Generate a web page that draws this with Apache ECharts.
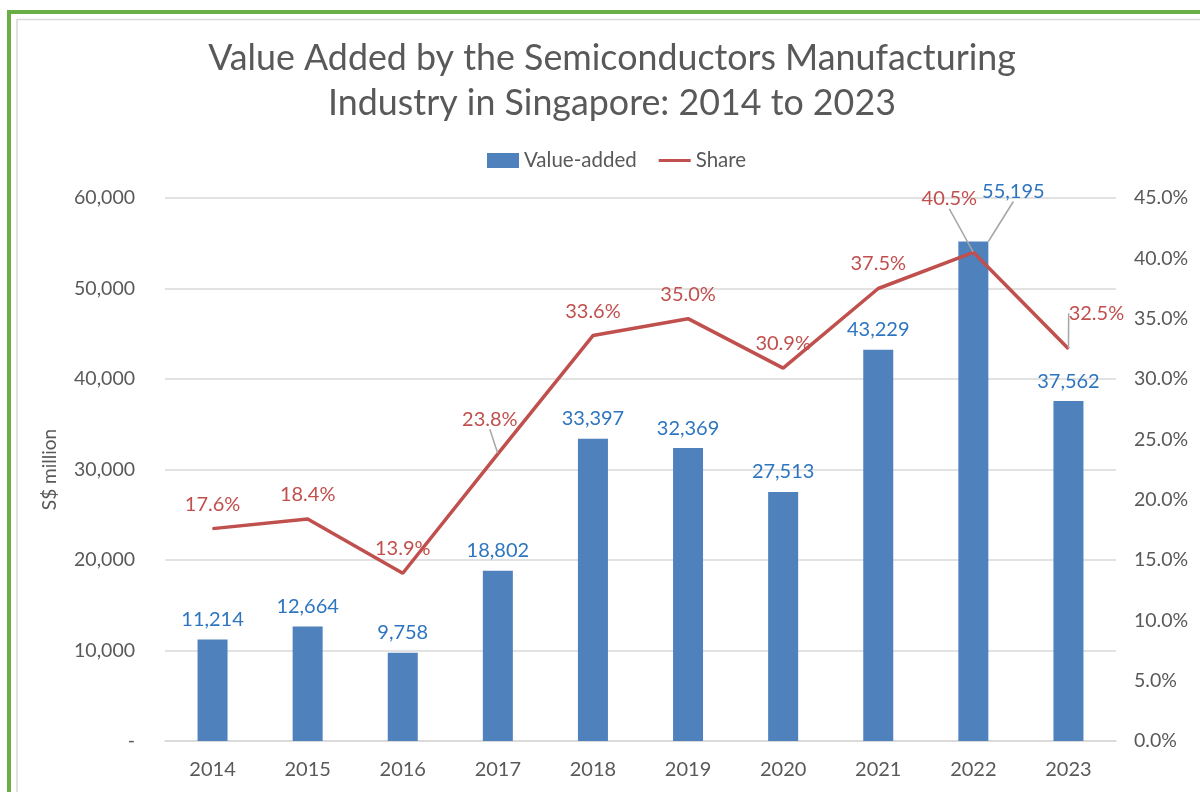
<!DOCTYPE html>
<html>
<head>
<meta charset="utf-8">
<script src="https://cdn.jsdelivr.net/npm/echarts@6/dist/echarts.min.js"></script>
<style>
html,body{margin:0;padding:0;background:#fff;}
#chart{width:1200px;height:792px;}
</style>
</head>
<body>
<div id="chart"></div>
<script>
var years = ['2014','2015','2016','2017','2018','2019','2020','2021','2022','2023'];
var valueAdded = [11214, 12664, 9758, 18802, 33397, 32369, 27513, 43229, 55195, 37562];
var share = [17.6, 18.4, 13.9, 23.8, 33.6, 35.0, 30.9, 37.5, 40.5, 32.5];
var leftTicks = [0, 10000, 20000, 30000, 40000, 50000, 60000];
var rightTicks = [0, 5, 10, 15, 20, 25, 30, 35, 40, 45];

var FONT = 'Lato';
var grey = '#595959';

// label displacement (layout only)
var lineLabelShift = {3: [-8, -10], 8: [-24, -29], 9: [28, -11]};
var barLabelShift = {8: [40, -30]};

var chart = echarts.init(document.getElementById('chart'));

var barData = valueAdded.map(function (v, i) {
  var d = {value: v};
  if (barLabelShift[i]) d.labelLine = {show: true, lineStyle: {color: '#a6a6a6', width: 1.5}};
  return d;
});
var lineData = share.map(function (v, i) {
  var d = {value: v};
  if (lineLabelShift[i]) d.labelLine = {show: true, lineStyle: {color: '#a6a6a6', width: 1.5}};
  return d;
});

chart.setOption({
  animation: false,
  backgroundColor: '#fff',
  graphic: [
    {type: 'rect', shape: {x: 9, y: 12, width: 1300, height: 900}, style: {fill: 'none', stroke: '#6aaf45', lineWidth: 4}, z: 100},
    {type: 'rect', shape: {x: 17, y: 19.5, width: 1300, height: 900}, style: {fill: 'none', stroke: '#d9d9d9', lineWidth: 1.5}, z: 100}
  ],
  title: {
    text: 'Value Added by the Semiconductors Manufacturing\nIndustry in Singapore: 2014 to 2023',
    left: 607, top: 31, textAlign: 'center',
    textStyle: {fontFamily: FONT, fontSize: 35.8, fontWeight: 'normal', color: grey, lineHeight: 45}
  },
  legend: {
    top: 145, left: 482,
    itemWidth: 32, itemHeight: 15, itemGap: 22,
    textStyle: {fontFamily: FONT, fontSize: 20.5, color: grey},
    data: [
      {name: 'Value-added', icon: 'rect', itemStyle: {color: '#4f81bd'}},
      {name: 'Share', icon: 'path://M0,0 L10,0 L10,1 L0,1 Z', itemStyle: {color: '#c0504d', opacity: 1}}
    ]
  },
  grid: {left: 165, right: 84, top: 198, bottom: 51},
  xAxis: {
    type: 'category', data: years,
    axisLine: {lineStyle: {color: '#d9d9d9', width: 1.5}},
    axisTick: {show: false},
    axisLabel: {fontFamily: FONT, fontSize: 20, color: grey, margin: 19}
  },
  yAxis: [
    {
      type: 'value', min: 0, max: 60000, interval: 10000,
      name: 'S$ million', nameLocation: 'middle', nameGap: 106, nameRotate: 90,
      nameTextStyle: {fontFamily: FONT, fontSize: 19, color: grey},
      axisLine: {show: false}, axisTick: {show: false},
      splitLine: {lineStyle: {color: '#d9d9d9', width: 1.5}},
      axisLabel: {
        fontFamily: FONT, fontSize: 19.5, color: grey, margin: 30,
        formatter: function (v) { return v === 0 ? '-' : v.toLocaleString('en-US'); }
      }
    },
    {
      type: 'value', min: 0, max: 45, interval: 5,
      axisLine: {show: false}, axisTick: {show: false}, splitLine: {show: false},
      axisLabel: {
        fontFamily: FONT, fontSize: 19.5, color: grey, margin: 18,
        formatter: function (v) { return v.toFixed(1) + '%'; }
      }
    }
  ],
  series: [
    {
      name: 'Value-added', type: 'bar', data: barData, barWidth: 30,
      itemStyle: {color: '#4f81bd'},
      label: {
        show: true, position: 'top', distance: 10,
        fontFamily: FONT, fontSize: 20, color: '#2e75c0',
        formatter: function (p) { return p.value.toLocaleString('en-US'); }
      },
      labelLine: {show: false},
      labelLayout: function (p) {
        var s = barLabelShift[p.dataIndex];
        return s ? {dx: s[0], dy: s[1]} : {};
      }
    },
    {
      name: 'Share', type: 'line', yAxisIndex: 1, data: lineData,
      symbol: 'circle', symbolSize: 1, showSymbol: true,
      lineStyle: {color: '#c0504d', width: 3.5},
      itemStyle: {color: '#c0504d'},
      label: {
        show: true, position: 'top', distance: 14,
        fontFamily: FONT, fontSize: 20, color: '#c0504d',
        formatter: function (p) { return p.value.toFixed(1) + '%'; }
      },
      labelLine: {show: false},
      labelLayout: function (p) {
        var s = lineLabelShift[p.dataIndex];
        return s ? {dx: s[0], dy: s[1]} : {};
      }
    }
  ]
});
</script>
</body>
</html>
